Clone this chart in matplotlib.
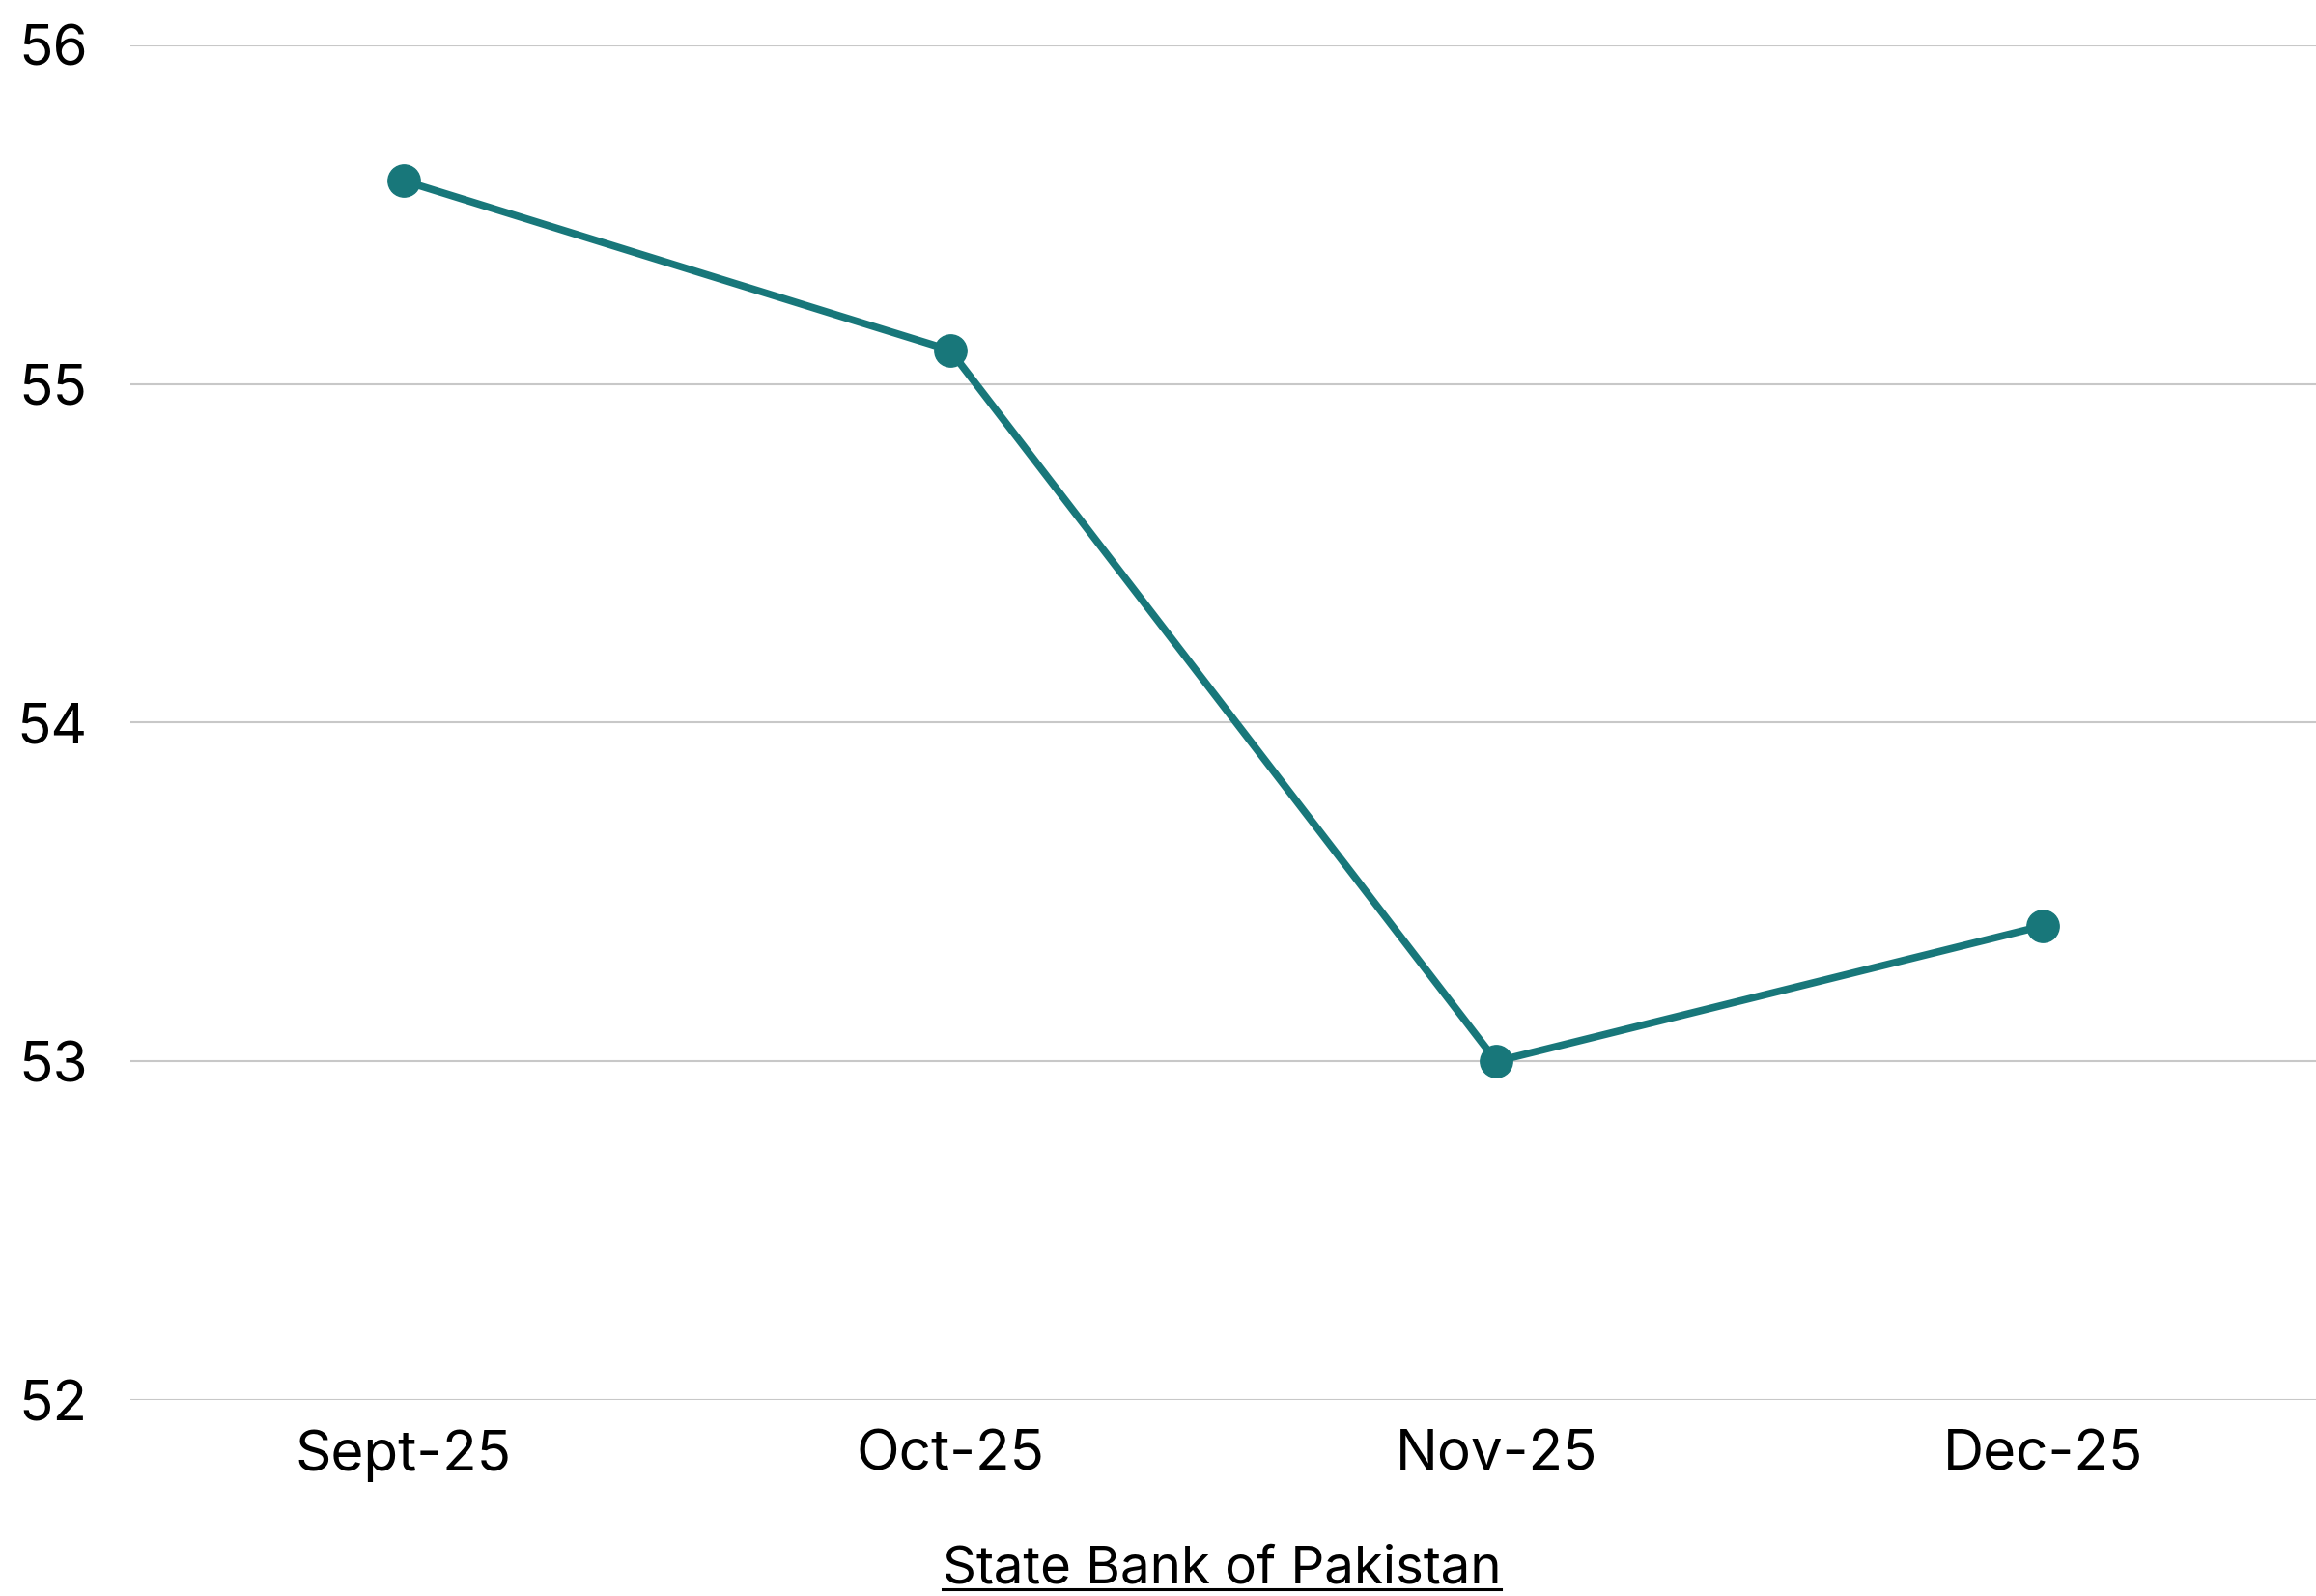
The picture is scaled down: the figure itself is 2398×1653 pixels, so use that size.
import matplotlib
matplotlib.use('Agg')
import matplotlib.pyplot as plt
from matplotlib.lines import Line2D

months = ['Sept-25', 'Oct-25', 'Nov-25', 'Dec-25']
values = [55.6, 55.1, 53.0, 53.4]
yticks = [52, 53, 54, 55, 56]
source = 'State Bank of Pakistan'

teal = '#18777a'

plt.rcParams['font.family'] = ['Inter', 'DejaVu Sans']

fig = plt.figure(figsize=(23.98, 16.53), dpi=100)
ax = fig.add_axes([0.0563, 0.1228, 0.9437, 0.8488])

x = list(range(len(months)))
ax.plot(x, values, color=teal, linewidth=5.5, marker='o', markersize=24,
        solid_capstyle='round', zorder=3)

ax.set_xlim(-0.5, len(months) - 0.5)
ax.set_ylim(52, 56)
ax.set_yticks(yticks)
ax.set_xticks(x)
ax.set_xticklabels(months)
ax.grid(axis='y', color='#c8c8c8', linewidth=1.5)
ax.set_axisbelow(True)
for s in ax.spines.values():
    s.set_visible(False)
ax.tick_params(axis='both', length=0, labelsize=42, colors='black')
ax.tick_params(axis='y', pad=32)
ax.tick_params(axis='x', pad=22)

# source note, underlined
t = fig.text(0.5275, 13 / 1653, source, ha='center', va='baseline', fontsize=39.3)
fig.canvas.draw()
bb = t.get_window_extent().transformed(fig.transFigure.inverted())
uy = 7 / 1653
fig.add_artist(Line2D([bb.x0, bb.x1], [uy, uy], transform=fig.transFigure,
                      color='black', linewidth=2.2))

plt.savefig('out.png', dpi=100)
